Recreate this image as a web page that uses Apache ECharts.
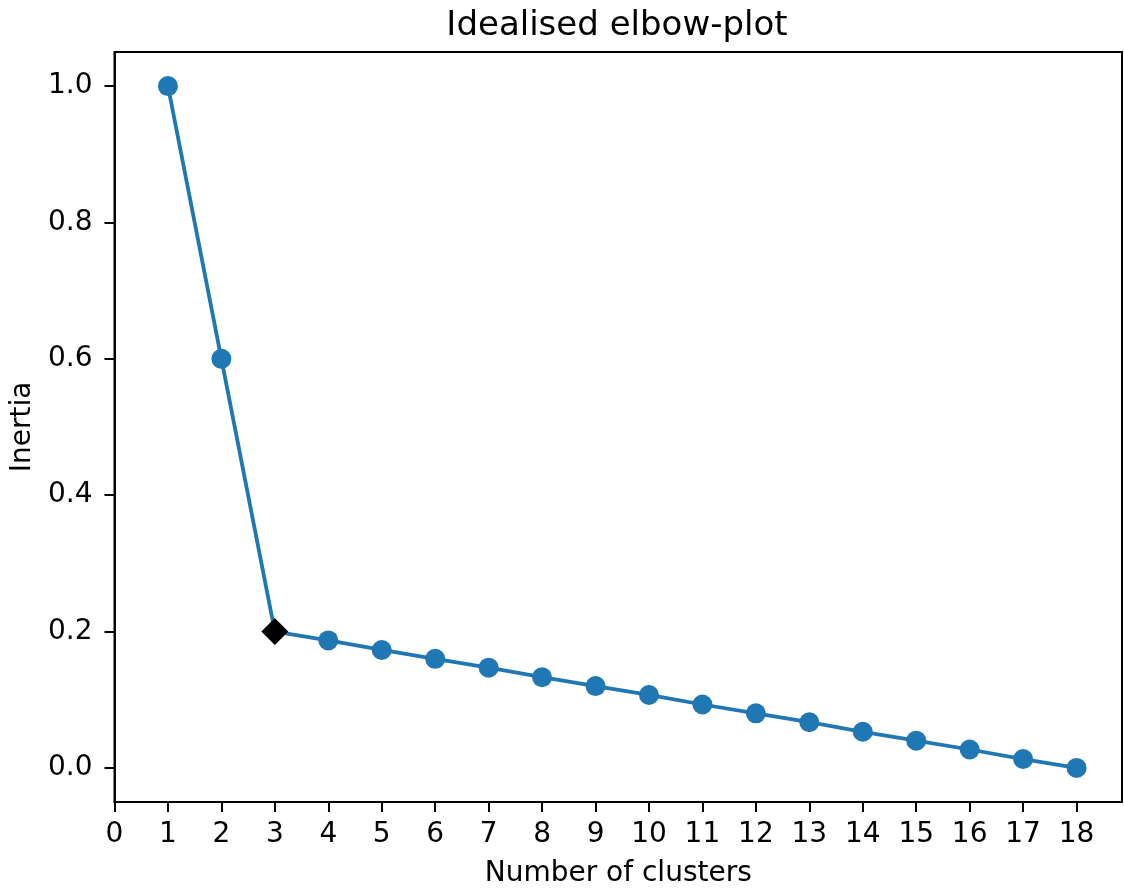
<!DOCTYPE html>
<html>
<head>
<meta charset="utf-8">
<script src="https://cdn.jsdelivr.net/npm/echarts@6/dist/echarts.min.js"></script>
<style>
  html, body { margin: 0; padding: 0; background: #fff; }
  #chart { width: 1124px; height: 888px; }
</style>
</head>
<body>
<div id="chart"></div>
<script>
// cluster counts and the inertia
const clusters = [1, 2, 3, 4, 5, 6, 7, 8, 9, 10, 11, 12, 13, 14, 15, 16, 17, 18];
const inertia = [1.0, 0.6, 0.2, 0.187, 0.173, 0.16, 0.147, 0.133, 0.12, 0.107,
                 0.093, 0.08, 0.067, 0.053, 0.04, 0.027, 0.013, 0.0];
const elbow = [3, 0.2];

const xTicks = [0, 1, 2, 3, 4, 5, 6, 7, 8, 9, 10, 11, 12, 13, 14, 15, 16, 17, 18];
const yTicks = [0.0, 0.2, 0.4, 0.6, 0.8, 1.0];

const font = 'DejaVu Sans';
const blue = '#1f77b4';

const chart = echarts.init(document.getElementById('chart'), null, { renderer: 'canvas' });

chart.setOption({
  animation: false,
  backgroundColor: '#fff',
  textStyle: { fontFamily: font },
  title: {
    text: 'Idealised elbow-plot',
    left: 612,
    top: 4,
    textAlign: 'center',
    textStyle: { fontFamily: font, fontSize: 34, fontWeight: 'normal', color: '#000' }
  },
  grid: {
    left: 114.5,
    right: 2,
    top: 52,
    bottom: 86,
    outerBoundsMode: 'none',
    containLabel: false,
    show: true,
    borderColor: '#000',
    borderWidth: 2,
    backgroundColor: 'transparent'
  },
  xAxis: {
    type: 'value',
    min: 0,
    max: 18.85,
    name: 'Number of clusters',
    nameLocation: 'middle',
    nameGap: 58,
    nameTextStyle: { fontFamily: font, fontSize: 28, color: '#000' },
    axisLine: { show: true, onZero: false, lineStyle: { color: '#000', width: 2 } },
    axisTick: { show: true, inside: false, length: 10, customValues: xTicks,
                lineStyle: { color: '#000', width: 2 } },
    axisLabel: { customValues: xTicks, margin: 19, fontFamily: font, fontSize: 28, color: '#000' },
    splitLine: { show: false }
  },
  yAxis: {
    type: 'value',
    min: -0.05,
    max: 1.05,
    name: 'Inertia',
    nameLocation: 'middle',
    nameGap: 78,
    nameRotate: 90,
    nameTextStyle: { fontFamily: font, fontSize: 28, color: '#000' },
    axisLine: { show: true, onZero: false, lineStyle: { color: '#000', width: 2 } },
    axisTick: { show: true, inside: false, length: 10, customValues: yTicks,
                lineStyle: { color: '#000', width: 2 } },
    axisLabel: {
      customValues: yTicks,
      margin: 22,
      fontFamily: font,
      fontSize: 28,
      color: '#000',
      formatter: v => v.toFixed(1)
    },
    splitLine: { show: false }
  },
  series: [
    {
      type: 'line',
      data: clusters.map((c, i) => (c === elbow[0]
        ? { value: [c, inertia[i]], symbolSize: 0 }
        : [c, inertia[i]])),
      symbol: 'circle',
      symbolSize: 20,
      showSymbol: true,
      itemStyle: { color: blue },
      lineStyle: { color: blue, width: 3.8 },
      z: 2
    },
    {
      type: 'scatter',
      data: [elbow],
      symbol: 'diamond',
      symbolSize: 27,
      itemStyle: { color: '#000', opacity: 1 },
      z: 5
    }
  ]
});
</script>
</body>
</html>
